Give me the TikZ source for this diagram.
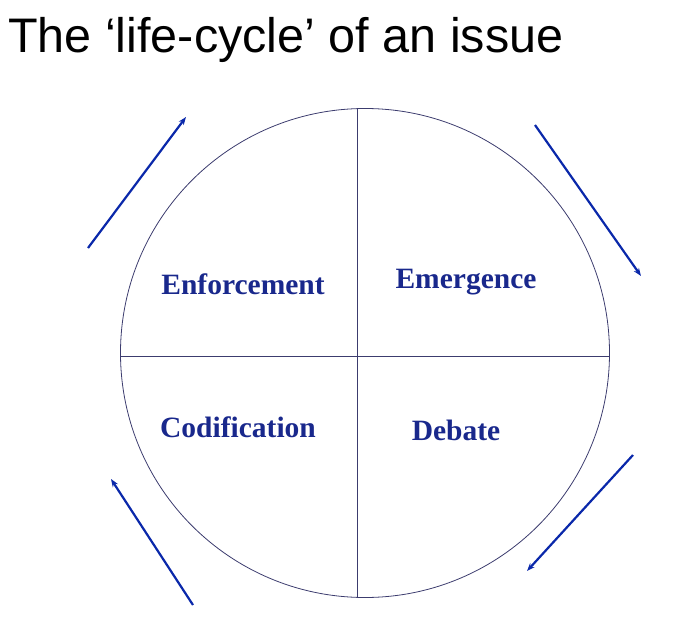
\documentclass[tikz,border=0pt]{standalone}
\usepackage{fontspec}
\setmainfont{Liberation Serif}
\newfontfamily\titlefont{Liberation Sans}
\usetikzlibrary{arrows.meta}
\definecolor{lab}{RGB}{25,40,140}
\definecolor{arr}{RGB}{10,40,170}
\definecolor{circ}{RGB}{60,60,110}
\tikzset{lbl/.style={text=lab,font=\bfseries\fontsize{29.5}{32}\selectfont},
 cyc/.style={arr,line width=2.2pt,-{Stealth[length=8pt,width=6pt]}},
 div/.style={circ,line width=0.8pt}}
\begin{document}
\begin{tikzpicture}[x=1pt,y=-1pt]
\useasboundingbox (0,0) rectangle (689,640);
\node[anchor=west,font=\titlefont\fontsize{48.5}{52}\selectfont,inner sep=0pt] (title) at (8,40) {The ‘life-cycle’ of an issue};
\node[draw=circ,line width=0.8pt,circle,minimum size=489pt,inner sep=0pt] (c) at (365,353) {};
\draw[div] (357,108) coordinate (vt) -- (357,598) coordinate (vb);
\draw[div] (121,356) coordinate (hl) -- (609,356) coordinate (hr);
\node[lbl] (enf) at (243,284) {Enforcement};
\node[lbl] (eme) at (466,282) {Emergence};
\node[lbl] (cod) at (238,427) {Codification};
\node[lbl] (deb) at (456,430) {Debate};
\coordinate (a1) at (88,248); \coordinate (a2) at (186,117);
\coordinate (b1) at (535,125); \coordinate (b2) at (641,276);
\coordinate (d1) at (633,455); \coordinate (d2) at (527,571);
\coordinate (e1) at (193,605); \coordinate (e2) at (111,479);
\draw[cyc] (a1) -- (a2);
\draw[cyc] (b1) -- (b2);
\draw[cyc] (d1) -- (d2);
\draw[cyc] (e1) -- (e2);
\end{tikzpicture}
\end{document}
